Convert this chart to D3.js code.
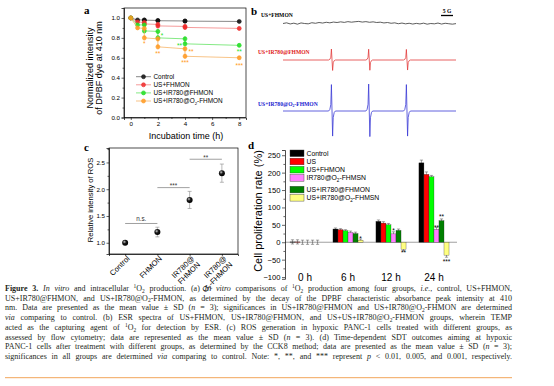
<!DOCTYPE html>
<html>
<head>
<meta charset="utf-8">
<script src="https://cdn.jsdelivr.net/npm/d3@7"></script>
<style>
  html, body { margin: 0; padding: 0; background: #fff; }
  svg { display: block; }
</style>
</head>
<body>
<svg id="fig" width="554" height="386"></svg>
<script>
// ---------- panel a: DPBF decay ----------
const timesA = [0, 0.5, 1, 1, 2, 2, 4, 4, 8];
const namesA = ['Control', 'US+FHMON', 'US+IR780@FHMON', 'US+IR780@O<sub>2</sub>-FHMON'];
const controlA = [1.0, 0.98, 0.98, 0.978, 0.975, 0.972, 0.97, 0.968, 0.965];
const usFhmonA = [1.0, 0.96, 0.955, 0.94, 0.935, 0.92, 0.915, 0.905, 0.895];
const usIrA = [1.0, 0.93, 0.93, 0.87, 0.865, 0.80, 0.79, 0.74, 0.725];
const usIrO2A = [1.0, 0.90, 0.895, 0.80, 0.79, 0.71, 0.69, 0.615, 0.60];
const errA = [0, 0.01, 0.01, 0.02, 0.02, 0.02, 0.02, 0.02, 0.015];
const ticksAx = [0, 2, 4, 6, 8];
const ticksAy = [0, 0.2, 0.4, 0.6, 0.8, 1.0];
// significance marks: series index, time, value, label
const sigA = [
  { s: 2, t: 2.3, v: 0.835, label: '*' },
  { s: 2, t: 3.6, v: 0.735, label: '**' },
  { s: 2, t: 8, v: 0.668, label: '**' },
  { s: 3, t: 1, v: 0.755, label: '*' },
  { s: 3, t: 2, v: 0.655, label: '**' },
  { s: 3, t: 4.45, v: 0.675, label: '**' },
  { s: 3, t: 4, v: 0.56, label: '***' },
  { s: 3, t: 8, v: 0.53, label: '***' }
];

// ---------- panel b: ESR spectra ----------
const esrPeaksG = [20.4, 35.9, 51.6];
const esrRedAmp = [1.0, 0.98, 0.96];
const esrBlueAmp = [2.4, 2.45, 2.4];
const esrShapeDx = [-1.4, -0.9, -0.5, -0.25, 0, 0.25, 0.5, 0.9, 1.4];
const esrShapeDy = [0, 0.06, 0.25, 1, 0, -0.95, -0.25, -0.06, 0];
const esrNoise = [0.00, 0.06, -0.04, 0.03, -0.06, 0.05, 0.00, -0.03, 0.07, 0.02, 0.09, 0.04,
  0.11, 0.06, 0.13, 0.09, 0.15, 0.10, 0.17, 0.12, 0.16, 0.19, 0.13, 0.17, 0.11, 0.15, 0.09,
  0.12, 0.05, 0.09, 0.02, 0.06, -0.02, 0.04, -0.03, 0.02, -0.05, 0.01, -0.04, 0.03, -0.06,
  0.00, -0.03, 0.04, -0.05, 0.02, -0.02, -0.06, -0.01];
const esrSpanG = 72;
const esrLabels = ['US+FHMON', 'US+IR780@FHMON', 'US+IR780@O<sub>2</sub>-FHMON'];

// ---------- panel c: ROS ----------
const catsC = ['Control', 'FHMON', 'IR780@FHMON', 'IR780@O2-FHMON'];
const catLinesC = [['Control'], ['FHMON'], ['IR780@', 'FHMON'], ['IR780@', 'O<sub>2</sub>-FHMON']];
const rosC = [1.0, 1.2, 1.8, 2.3];
const rosErrC = [0.02, 0.09, 0.16, 0.17];
const ticksCy = [1.0, 1.5, 2.0, 2.5];
const sigC = [
  { a: 0, b: 1, v: 1.36, label: 'n.s.' },
  { a: 1, b: 2, v: 2.03, label: '***' },
  { a: 2, b: 3, v: 2.56, label: '**' }
];

// ---------- panel d: cell proliferation ----------
const groupsD = ['0 h', '6 h', '12 h', '24 h'];
const namesD = ['Control', 'US', 'US+FHMON', 'IR780@O<sub>2</sub>-FHMSN', 'US+IR780@FHMON', 'US+IR780@O<sub>2</sub>-FHMSN'];
const colorsD = ['#000000', '#ff0000', '#00ff00', '#ff80ff', '#008000', '#ffff80'];
const valuesD = [
  [1, 1, 0, 0, 0, 0],
  [38, 36, 33, 28, 25, 6],
  [60, 55, 50, 24, 34, -20],
  [228, 195, 188, 37, 62, -37]
];
const errD = [
  [6, 6, 6, 6, 6, 6],
  [3, 3, 3, 4, 4, 3],
  [4, 4, 4, 6, 4, 5],
  [8, 7, 4, 6, 5, 6]
];
const ticksDy = [-100, -50, 0, 50, 100, 150, 200, 250];
const sigD = [
  { g: '6 h', s: 5, v: 13, label: '*' },
  { g: '12 h', s: 3, v: 37, label: '*' },
  { g: '12 h', s: 5, v: -28, label: '**' },
  { g: '24 h', s: 3, v: 45, label: '**' },
  { g: '24 h', s: 4, v: 76, label: '**' },
  { g: '24 h', s: 5, v: -54, label: '***' }
];

// ---------- caption ----------
const captionLines = [
  '<b>Figure 3.</b> <i>In vitro</i> and intracellular <sup>1</sup>O<sub>2</sub> production. (a) <i>In vitro</i> comparisons of <sup>1</sup>O<sub>2</sub> production among four groups, <i>i.e.</i>, control, US+FHMON,',
  'US+IR780@FHMON, and US+IR780@O<sub>2</sub>-FHMON, as determined by the decay of the DPBF characteristic absorbance peak intensity at 410',
  'nm. Data are presented as the mean value ± SD (<i>n</i> = 3); significances in US+IR780@FHMON and US+IR780@O<sub>2</sub>-FHMON are determined',
  '<i>via</i> comparing to control. (b) ESR spectra of US+FHMON, US+IR780@FHMON, and US+US+IR780@O<sub>2</sub>-FHMON groups, wherein TEMP',
  'acted as the capturing agent of <sup>1</sup>O<sub>2</sub> for detection by ESR. (c) ROS generation in hypoxic PANC-1 cells treated with different groups, as',
  'assessed by flow cytometry; data are represented as the mean value ± SD (<i>n</i> = 3). (d) Time-dependent SDT outcomes aiming at hypoxic',
  'PANC-1 cells after treatment with different groups, as determined by the CCK8 method; data are presented as the mean value ± SD (<i>n</i> = 3);',
  'significances in all groups are determined <i>via</i> comparing to control. Note: *, **, and *** represent <i>p</i> < 0.01, 0.005, and 0.001, respectively.'
];

const sans = '"Liberation Sans", Arial, sans-serif';
const serif = '"Liberation Serif", "Times New Roman", serif';
const fig = d3.select('#fig');

// parse tiny markup (<b>, <i>, <sup>, <sub>) into tspans
function rich(text, str, fs) {
  const re = /<(b|i|sup|sub)>(.*?)<\/\1>/g;
  const parts = [];
  let last = 0, m;
  while ((m = re.exec(str))) {
    if (m.index > last) parts.push({ t: str.slice(last, m.index) });
    parts.push({ t: m[2], k: m[1] });
    last = re.lastIndex;
  }
  if (last < str.length) parts.push({ t: str.slice(last) });
  let shift = 0;
  parts.forEach(p => {
    const ts = text.append('tspan').text(p.t);
    let target = 0;
    if (p.k === 'sup') target = -0.38 * fs;
    if (p.k === 'sub') target = 0.22 * fs;
    if (target !== shift) ts.attr('dy', target - shift);
    shift = target;
    if (p.k === 'sup' || p.k === 'sub') ts.attr('font-size', fs * 0.68);
    if (p.k === 'b') ts.attr('font-weight', 'bold');
    if (p.k === 'i') ts.attr('font-style', 'italic');
  });
  return text;
}

function styleAxis(g, fs) {
  g.attr('font-size', null).attr('font-family', null);
  g.selectAll('text').attr('font-size', fs).attr('font-family', sans).attr('fill', '#000');
  g.selectAll('line').attr('stroke-width', 0.6);
  g.select('.domain').attr('stroke-width', 0.7);
}

function panelLabel(x, y, s) {
  fig.append('text').attr('x', x).attr('y', y).attr('font-family', serif)
    .attr('font-weight', 'bold').attr('font-size', 11).text(s);
}

// ================= panel a =================
(function () {
  const x = d3.scaleLinear().domain([-0.5, 8.5]).range([124, 246]);
  const y = d3.scaleLinear().domain([0, 1.1]).range([117.5, 8]);
  const g = fig.append('g');
  const colors = ['#111111', '#ee2a2a', '#22dd22', '#ff9a22'];
  const lineCol = ['#555555', '#f07070', '#50e050', '#f5aa55'];
  const values = [controlA, usFhmonA, usIrA, usIrO2A];

  g.append('rect').attr('x', 124).attr('y', 8).attr('width', 122).attr('height', 109.5)
    .attr('fill', 'none').attr('stroke', '#000').attr('stroke-width', 0.7);

  const xa = g.append('g').attr('transform', 'translate(0,117.5)')
    .call(d3.axisBottom(x).tickValues(ticksAx).tickSize(2.5).tickPadding(1.5));
  styleAxis(xa, 6.2);
  const xm = g.append('g').attr('transform', 'translate(0,117.5)')
    .call(d3.axisBottom(x).tickValues([1, 3, 5, 7]).tickSize(1.5).tickFormat(''));
  styleAxis(xm, 6); xm.select('.domain').remove();
  const ya = g.append('g').attr('transform', 'translate(124,0)')
    .call(d3.axisLeft(y).tickValues(ticksAy).tickFormat(d3.format('.1f')).tickSize(2.5).tickPadding(1.5));
  styleAxis(ya, 6.2);
  const ym = g.append('g').attr('transform', 'translate(124,0)')
    .call(d3.axisLeft(y).tickValues([0.1, 0.3, 0.5, 0.7, 0.9]).tickSize(1.5).tickFormat(''));
  styleAxis(ym, 6); ym.select('.domain').remove();

  g.append('text').attr('x', 186).attr('y', 138.5).attr('text-anchor', 'middle')
    .attr('font-family', sans).attr('font-size', 9).text('Incubation time (h)');
  const yt = g.append('g').attr('transform', 'translate(93,68) rotate(-90)');
  yt.append('text').attr('text-anchor', 'middle').attr('font-family', sans).attr('font-size', 9)
    .text('Normalized intensity');
  yt.append('text').attr('y', 9.2).attr('text-anchor', 'middle').attr('font-family', sans).attr('font-size', 9)
    .text('of DPBF dye at 410 nm');

  const line = d3.line().x((d, i) => x(timesA[i])).y(d => y(d));
  values.forEach((vals, s) => {
    const sg = g.append('g');
    sg.append('path').attr('d', line(vals)).attr('fill', 'none')
      .attr('stroke', lineCol[s]).attr('stroke-width', 0.7);
    vals.forEach((v, i) => {
      const e = s === 0 ? errA[i] * 0.5 : errA[i];
      if (e > 0) {
        sg.append('line').attr('x1', x(timesA[i])).attr('x2', x(timesA[i]))
          .attr('y1', y(v - e)).attr('y2', y(v + e)).attr('stroke', lineCol[s]).attr('stroke-width', 0.5);
        [v - e, v + e].forEach(c => sg.append('line')
          .attr('x1', x(timesA[i]) - 1.2).attr('x2', x(timesA[i]) + 1.2)
          .attr('y1', y(c)).attr('y2', y(c)).attr('stroke', lineCol[s]).attr('stroke-width', 0.5));
      }
    });
    sg.selectAll('circle').data(vals).join('circle')
      .attr('cx', (d, i) => x(timesA[i])).attr('cy', d => y(d)).attr('r', 2)
      .attr('fill', colors[s]).attr('fill-opacity', 0.85)
      .attr('stroke', colors[s]).attr('stroke-width', 0.6);
  });

  g.selectAll('.siga').data(sigA).join('text')
    .attr('x', d => x(d.t)).attr('y', d => y(d.v) + 3.4).attr('text-anchor', 'middle')
    .attr('font-family', sans).attr('font-size', 6.5).attr('fill', d => colors[d.s]).text(d => d.label);

  // legend
  namesA.forEach((n, s) => {
    const ly = 76.7 + s * 8.1;
    g.append('line').attr('x1', 136).attr('x2', 151).attr('y1', ly).attr('y2', ly)
      .attr('stroke', lineCol[s]).attr('stroke-width', 0.7);
    g.append('circle').attr('cx', 143.5).attr('cy', ly).attr('r', 2)
      .attr('fill', colors[s]).attr('fill-opacity', 0.85).attr('stroke', colors[s]).attr('stroke-width', 0.6);
    rich(g.append('text').attr('x', 153.5).attr('y', ly + 2.2).attr('font-family', sans)
      .attr('font-size', 6.4), n, 6.4);
  });
  panelLabel(84, 13.5, 'a');
})();

// ================= panel b =================
(function () {
  const x = d3.scaleLinear().domain([0, esrSpanG]).range([283, 456]);
  const unit = 11; // px per intensity unit
  const g = fig.append('g');
  const bases = [23.5, 60, 111];
  const cols = ['#333333', '#e23b3b', '#3a3ad6'];
  const labelCols = ['#000000', '#e02020', '#2020d0'];

  function peaks(amps) {
    const pts = [[0, 0]];
    esrPeaksG.forEach((c, k) => {
      esrShapeDx.forEach((dx, j) => pts.push([c + dx, amps[k] * esrShapeDy[j]]));
    });
    pts.push([esrSpanG, 0]);
    return pts;
  }
  const step = esrSpanG / (esrNoise.length - 1);
  const traces = [esrNoise.map((v, i) => [i * step, v]), peaks(esrRedAmp), peaks(esrBlueAmp)];

  traces.forEach((pts, k) => {
    const line = d3.line().x(d => x(d[0])).y(d => bases[k] - d[1] * unit);
    g.append('path').attr('d', line(pts)).attr('fill', 'none')
      .attr('stroke', cols[k]).attr('stroke-width', 0.8);
    rich(g.append('text').attr('x', [261, 258, 258][k]).attr('y', [16.5, 54, 106][k])
      .attr('font-family', serif).attr('font-weight', 'bold').attr('font-size', 5.6)
      .attr('fill', labelCols[k]), esrLabels[k], 5.6);
  });

  // 5 G scale bar
  const x1 = 453, x0 = x1 - (x(5) - x(0));
  g.append('line').attr('x1', x0).attr('x2', x1).attr('y1', 15.5).attr('y2', 15.5)
    .attr('stroke', '#000').attr('stroke-width', 1.3);
  g.append('text').attr('x', (x0 + x1) / 2).attr('y', 12.5).attr('text-anchor', 'middle')
    .attr('font-family', serif).attr('font-weight', 'bold').attr('font-size', 5.6).text('5 G');
  panelLabel(251, 15, 'b');
})();

// ================= panel c =================
(function () {
  const x = d3.scalePoint().domain(catsC).range([109, 238]).padding(0.5);
  const y = d3.scaleLinear().domain([0.79, 2.77]).range([254, 148]);
  const g = fig.append('g');
  const defs = fig.append('defs');
  const grad = defs.append('radialGradient').attr('id', 'ball').attr('cx', '38%').attr('cy', '35%').attr('r', '65%');
  grad.append('stop').attr('offset', '0%').attr('stop-color', '#c8c8c8');
  grad.append('stop').attr('offset', '45%').attr('stop-color', '#1a1a1a');
  grad.append('stop').attr('offset', '100%').attr('stop-color', '#000');

  g.append('rect').attr('x', 109).attr('y', 148).attr('width', 129).attr('height', 106)
    .attr('fill', 'none').attr('stroke', '#000').attr('stroke-width', 0.7);
  const ya = g.append('g').attr('transform', 'translate(109,0)')
    .call(d3.axisLeft(y).tickValues(ticksCy).tickFormat(d3.format('.1f')).tickSize(2.5).tickPadding(1.5));
  styleAxis(ya, 6.2);
  const ym = g.append('g').attr('transform', 'translate(109,0)')
    .call(d3.axisLeft(y).tickValues([1.25, 1.75, 2.25, 2.75]).tickSize(1.5).tickFormat(''));
  styleAxis(ym, 6); ym.select('.domain').remove();
  const xa = g.append('g').attr('transform', 'translate(0,254)')
    .call(d3.axisBottom(x).tickSize(2).tickFormat(''));
  styleAxis(xa, 6);

  catLinesC.forEach((lines, i) => {
    const lg = g.append('g').attr('transform', `translate(${x(catsC[i]) + 5},259) rotate(-45)`);
    lines.forEach((l, j) => rich(lg.append('text').attr('y', j * 8.5).attr('text-anchor', 'end')
      .attr('font-family', sans).attr('font-size', 7.6), l, 7.6));
  });

  g.append('text').attr('transform', 'translate(93,200) rotate(-90)').attr('text-anchor', 'middle')
    .attr('font-family', sans).attr('font-size', 7.6).text('Relative intensity of ROS');

  sigC.forEach(d => {
    g.append('line').attr('x1', x(catsC[d.a])).attr('x2', x(catsC[d.b]))
      .attr('y1', y(d.v)).attr('y2', y(d.v)).attr('stroke', '#888').attr('stroke-width', 0.8);
    g.append('text').attr('x', (x(catsC[d.a]) + x(catsC[d.b])) / 2)
      .attr('y', y(d.v) - (d.label === 'n.s.' ? 2.5 : -0.5)).attr('text-anchor', 'middle')
      .attr('font-family', sans).attr('font-size', 6.3).attr('fill', '#333').text(d.label);
  });

  rosC.forEach((v, i) => {
    const cx = x(catsC[i]);
    const e = rosErrC[i];
    g.append('line').attr('x1', cx).attr('x2', cx).attr('y1', y(v - e)).attr('y2', y(v + e))
      .attr('stroke', '#888').attr('stroke-width', 0.6);
    [v - e, v + e].forEach(c => g.append('line').attr('x1', cx - 2).attr('x2', cx + 2)
      .attr('y1', y(c)).attr('y2', y(c)).attr('stroke', '#888').attr('stroke-width', 0.6));
    g.append('circle').attr('cx', cx).attr('cy', y(v)).attr('r', 3).attr('fill', 'url(#ball)');
  });
  panelLabel(84, 150.5, 'c');
})();

// ================= panel d =================
(function () {
  const y = d3.scaleLinear().domain([-105, 265]).range([278.8, 150]);
  const x = d3.scaleBand().domain(groupsD).range([285, 454]).paddingInner(0.3).paddingOuter(0.116);
  const xs = d3.scaleBand().domain(d3.range(namesD.length)).range([0, x.bandwidth()]);
  const g = fig.append('g');

  g.append('line').attr('x1', 285).attr('x2', 457).attr('y1', y(0)).attr('y2', y(0))
    .attr('stroke', '#777').attr('stroke-width', 0.7);

  groupsD.forEach((grp, gi) => {
    const bg = g.append('g').attr('transform', `translate(${x(grp)},0)`);
    // error bars first so the bar covers the inner half
    valuesD[gi].forEach((v, s) => {
      const cx = xs(s) + xs.bandwidth() / 2, e = errD[gi][s];
      bg.append('line').attr('x1', cx).attr('x2', cx).attr('y1', y(v - e)).attr('y2', y(v + e))
        .attr('stroke', '#444').attr('stroke-width', 0.5);
      [v - e, v + e].forEach(c => bg.append('line').attr('x1', cx - 1.6).attr('x2', cx + 1.6)
        .attr('y1', y(c)).attr('y2', y(c)).attr('stroke', '#444').attr('stroke-width', 0.5));
    });
    bg.selectAll('rect').data(valuesD[gi]).join('rect')
      .attr('x', (d, s) => xs(s)).attr('width', xs.bandwidth())
      .attr('y', d => y(Math.max(0, d))).attr('height', d => Math.abs(y(d) - y(0)))
      .attr('fill', (d, s) => colorsD[s]).attr('stroke', '#222').attr('stroke-width', 0.3);
    g.append('text').attr('x', x(grp) + x.bandwidth() / 2).attr('y', 280.5).attr('text-anchor', 'middle')
      .attr('font-family', sans).attr('font-size', 10).text(grp);
  });

  g.selectAll('.sigd').data(sigD).join('text')
    .attr('x', d => x(d.g) + xs(d.s) + xs.bandwidth() / 2).attr('y', d => y(d.v) + 3.4)
    .attr('text-anchor', 'middle').attr('font-family', sans).attr('font-size', 6.5).text(d => d.label);

  const ya = g.append('g').attr('transform', 'translate(285,0)')
    .call(d3.axisLeft(y).tickValues(ticksDy).tickSize(3).tickPadding(1.5));
  styleAxis(ya, 7.6);
  const ym = g.append('g').attr('transform', 'translate(285,0)')
    .call(d3.axisLeft(y).tickValues([-75, -25, 25, 75, 125, 175, 225]).tickSize(1.6).tickFormat(''));
  styleAxis(ym, 6); ym.select('.domain').remove();

  g.append('text').attr('transform', 'translate(261.5,211) rotate(-90)').attr('text-anchor', 'middle')
    .attr('font-family', sans).attr('font-size', 11).text('Cell proliferation rate (%)');

  namesD.forEach((n, s) => {
    const ly = 153.3 + s * 8.2 + (s >= 4 ? 3.5 : 0);
    g.append('rect').attr('x', 290).attr('y', ly - 3.3).attr('width', 14).attr('height', 6.6)
      .attr('fill', colorsD[s]).attr('stroke', '#333').attr('stroke-width', 0.4);
    rich(g.append('text').attr('x', 306.5).attr('y', ly + 2.3).attr('font-family', sans)
      .attr('font-size', 6.8), n, 6.8);
  });
  panelLabel(248, 149, 'd');
})();

// ================= caption =================
(function () {
  const left = 5, right = 512;
  const width = right - left;
  // measure at a trial size, then pick one size so every line has room for normal word gaps
  const probe = 8;
  const texts = captionLines.map((str, i) => {
    const t = fig.append('text').attr('x', left).attr('y', 290.8 + i * 9.77)
      .attr('font-family', serif).attr('font-size', probe).attr('fill', '#231f20');
    rich(t, str, probe);
    return t;
  });
  const lens = texts.map(t => t.node().getComputedTextLength());
  const spaces = captionLines.map(s => (s.replace(/<[^>]+>/g, '').match(/ /g) || []).length);
  const scale = d3.min(lens, (l, i) => (width - spaces[i] * 0.4) / l);
  const fs = Math.min(probe, probe * scale);
  texts.forEach((t, i) => {
    t.selectAll('*').remove();
    t.attr('font-size', fs);
    rich(t, captionLines[i], fs);
    const len = t.node().getComputedTextLength();
    if (spaces[i]) t.attr('word-spacing', (width - len) / spaces[i]);
  });
  fig.append('line').attr('x1', 5).attr('x2', 512).attr('y1', 377.7).attr('y2', 377.7)
    .attr('stroke', '#f2a65a').attr('stroke-width', 1);
})();
</script>
</body>
</html>
